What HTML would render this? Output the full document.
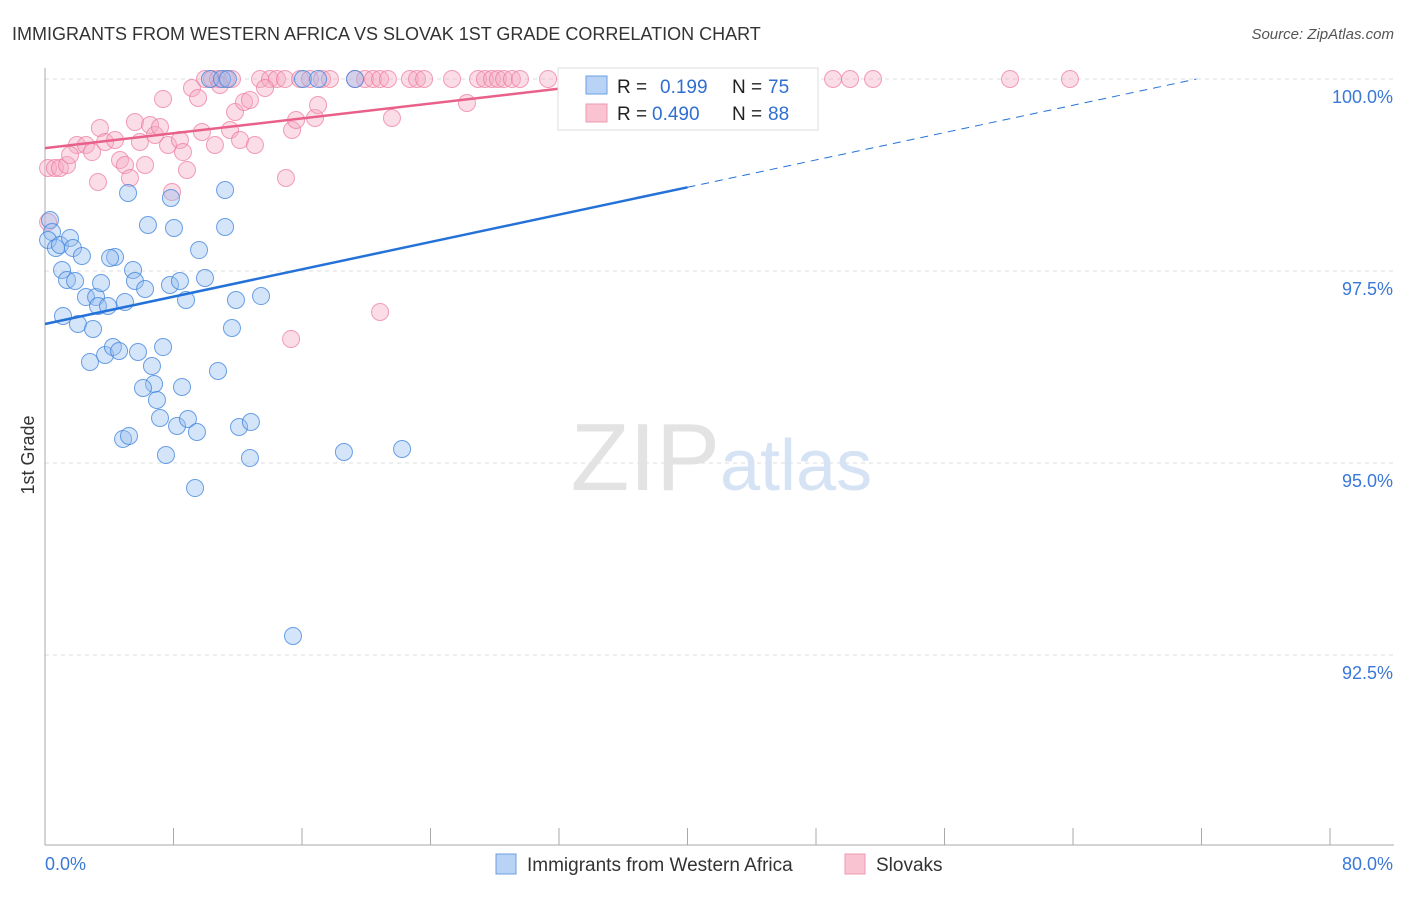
<!DOCTYPE html>
<html><head><meta charset="utf-8">
<style>
body{margin:0;background:#fff;font-family:"Liberation Sans",sans-serif;}
svg text{font-family:"Liberation Sans",sans-serif;}
</style></head>
<body>
<svg width="1406" height="892" viewBox="0 0 1406 892">
<text x="12" y="40" font-size="18" fill="#333">IMMIGRANTS FROM WESTERN AFRICA VS SLOVAK 1ST GRADE CORRELATION CHART</text>
<text x="1394" y="39" font-size="15" fill="#555" font-style="italic" text-anchor="end">Source: ZipAtlas.com</text>
<text x="34" y="455" font-size="18" fill="#333" transform="rotate(-90 34 455)" text-anchor="middle">1st Grade</text>
<g id="grid"></g>
<text x="720" y="490" font-size="96" fill="#e3e3e3" text-anchor="end" font-family="Liberation Serif">ZIP</text>
<text x="720" y="490" font-size="72" fill="#d6e3f5">atlas</text>
<g id="pts"></g>
<g id="lines"></g>
<g>
<rect x="558" y="68" width="260" height="62" fill="#fff" stroke="#ddd"/>
<rect x="586" y="76" width="21" height="18" fill="#b8d3f5" stroke="#6d9fe0"/>
<text x="617" y="93" font-size="19" fill="#222">R = </text>
<text x="660" y="93" font-size="19" fill="#2f6fd0">0.199</text>
<text x="732" y="93" font-size="19" fill="#222">N = </text>
<text x="768" y="93" font-size="19" fill="#2f6fd0">75</text>
<rect x="586" y="104" width="21" height="18" fill="#f9c3d2" stroke="#ee9ab2"/>
<text x="617" y="120" font-size="19" fill="#222">R = </text>
<text x="652" y="120" font-size="19" fill="#2f6fd0">0.490</text>
<text x="732" y="120" font-size="19" fill="#222">N = </text>
<text x="768" y="120" font-size="19" fill="#2f6fd0">88</text>
</g>
<g>
<rect x="496" y="854" width="20" height="20" fill="#b8d3f5" stroke="#6d9fe0"/>
<text x="527" y="871" font-size="19" fill="#333">Immigrants from Western Africa</text>
<rect x="845" y="854" width="20" height="20" fill="#f9c3d2" stroke="#ee9ab2"/>
<text x="876" y="871" font-size="19" fill="#333">Slovaks</text>
</g>
</svg>
<script>
const xTicks=[0,10,20,30,40,50,60,70,80,90,100];
const yTicks=[100,97.5,95,92.5];
const yTickLabels=["100.0%","97.5%","95.0%","92.5%"];
const xEndLabels=["0.0%","80.0%"];
const bluePx=[[50,220],[52,232],[48,240],[56,248],[60,245],[70,238],[73,248],[82,256],[62,270],[67,280],[75,281],[86,297],[96,297],[101,283],[98,306],[108,306],[125,302],[115,257],[110,258],[133,270],[135,281],[145,289],[170,285],[180,281],[186,300],[205,278],[236,300],[261,296],[63,316],[78,324],[93,329],[90,362],[105,355],[113,347],[119,351],[138,352],[163,347],[152,366],[154,384],[143,388],[157,400],[182,387],[160,418],[177,426],[188,419],[197,432],[123,439],[129,436],[166,455],[250,458],[195,488],[239,427],[251,422],[218,371],[232,328],[128,193],[171,198],[148,225],[174,228],[225,190],[225,227],[199,250],[344,452],[402,449],[293,636],[210,79],[222,79],[228,79],[303,79],[318,79],[355,79],[580,79],[600,79],[618,79]];
const pinkPx=[[205,79],[212,79],[218,79],[226,79],[232,79],[260,79],[270,79],[277,79],[285,79],[300,79],[310,79],[322,79],[330,79],[355,79],[365,79],[373,79],[380,79],[388,79],[410,79],[417,79],[424,79],[452,79],[478,79],[485,79],[492,79],[498,79],[504,79],[512,79],[520,79],[548,79],[575,79],[610,79],[640,79],[655,79],[735,79],[833,79],[850,79],[873,79],[1010,79],[1070,79],[48,168],[55,168],[60,168],[67,165],[77,145],[70,155],[86,145],[92,152],[98,182],[100,128],[105,142],[115,140],[120,160],[125,165],[130,178],[135,122],[140,142],[145,165],[150,125],[155,135],[160,127],[168,145],[172,192],[180,140],[183,152],[187,170],[192,88],[198,98],[202,132],[215,145],[220,85],[230,130],[235,112],[240,140],[244,102],[250,100],[255,145],[265,88],[286,178],[292,130],[291,339],[296,120],[315,118],[318,105],[380,312],[392,118],[467,103],[163,99],[48,222]];
// convert read pixel positions to data values (percent)
const blueX=bluePx.map(p=>+((p[0]-45)/16.0625).toFixed(2));
const blueY=bluePx.map(p=>+(100-(p[1]-79)/76.8).toFixed(3));
const pinkX=pinkPx.map(p=>+((p[0]-45)/16.0625).toFixed(2));
const pinkY=pinkPx.map(p=>+(100-(p[1]-79)/76.8).toFixed(3));
const blueTrend=[96.81,98.59];
const pinkTrend=[99.10,99.92];
const X0=45,X1=1330,Y0=79;
function sx(v){return X0+v*(X1-X0)/80;}
function sy(v){return Y0+(100-v)*76.8;}
const NS="http://www.w3.org/2000/svg";
function mk(t,a,parent){const e=document.createElementNS(NS,t);for(const k in a)e.setAttribute(k,a[k]);parent.appendChild(e);return e;}
const grid=document.getElementById('grid');
yTicks.forEach((v,i)=>{
 const l=mk('line',{x1:45,x2:1394,y1:sy(v),y2:sy(v),stroke:'#ddd','stroke-dasharray':'4,4'},grid);
 
 
 const t=mk('text',{x:1393,y:sy(v)+24,'font-size':18,fill:'#3a78d8','text-anchor':'end'},grid);
 t.textContent=yTickLabels[i];
 
 
});
const ax=mk('line',{x1:45,x2:45,y1:68,y2:845,stroke:'#aaa'},grid);


const bx=mk('line',{x1:45,x2:1394,y1:845,y2:845,stroke:'#aaa'},grid);


xTicks.forEach(v=>{
 const t=mk('line',{x1:sx(v*0.8),x2:sx(v*0.8),y1:828,y2:845,stroke:'#aaa'},grid);
 
 
});
const xl=mk('text',{x:45,y:870,'font-size':18,fill:'#3a78d8'},grid);xl.textContent=xEndLabels[0];


const xr=mk('text',{x:1393,y:870,'font-size':18,fill:'#3a78d8','text-anchor':'end'},grid);xr.textContent=xEndLabels[1];


const pts=document.getElementById('pts');
pinkX.forEach((v,i)=>{
 const c=mk('circle',{cx:sx(v),cy:sy(pinkY[i]),r:8.5,fill:'rgba(246,170,195,0.4)',stroke:'rgba(236,120,155,0.7)','stroke-width':1},pts);
 
 
});
blueX.forEach((v,i)=>{
 const c=mk('circle',{cx:sx(v),cy:sy(blueY[i]),r:8.5,fill:'rgba(150,190,240,0.4)',stroke:'rgba(60,130,220,0.75)','stroke-width':1},pts);
 
 
});
const lines=document.getElementById('lines');
const bs=(blueTrend[1]-blueTrend[0])/40;
const b1=mk('line',{x1:sx(0),y1:sy(blueTrend[0]),x2:sx(40),y2:sy(blueTrend[1]),stroke:'#2472d8','stroke-width':2.5},lines);


const xe=40+(100-blueTrend[1])/bs;
const b2=mk('line',{x1:sx(40),y1:sy(blueTrend[1]),x2:sx(xe),y2:sy(100),stroke:'#2472d8','stroke-width':1,'stroke-dasharray':'8,6'},lines);


const p1=mk('line',{x1:sx(0),y1:sy(pinkTrend[0]),x2:sx(34.5),y2:sy(pinkTrend[0]+(pinkTrend[1]-pinkTrend[0])*34.5/33.9),stroke:'#e9608a','stroke-width':2.5},lines);


</script>
</body></html>
